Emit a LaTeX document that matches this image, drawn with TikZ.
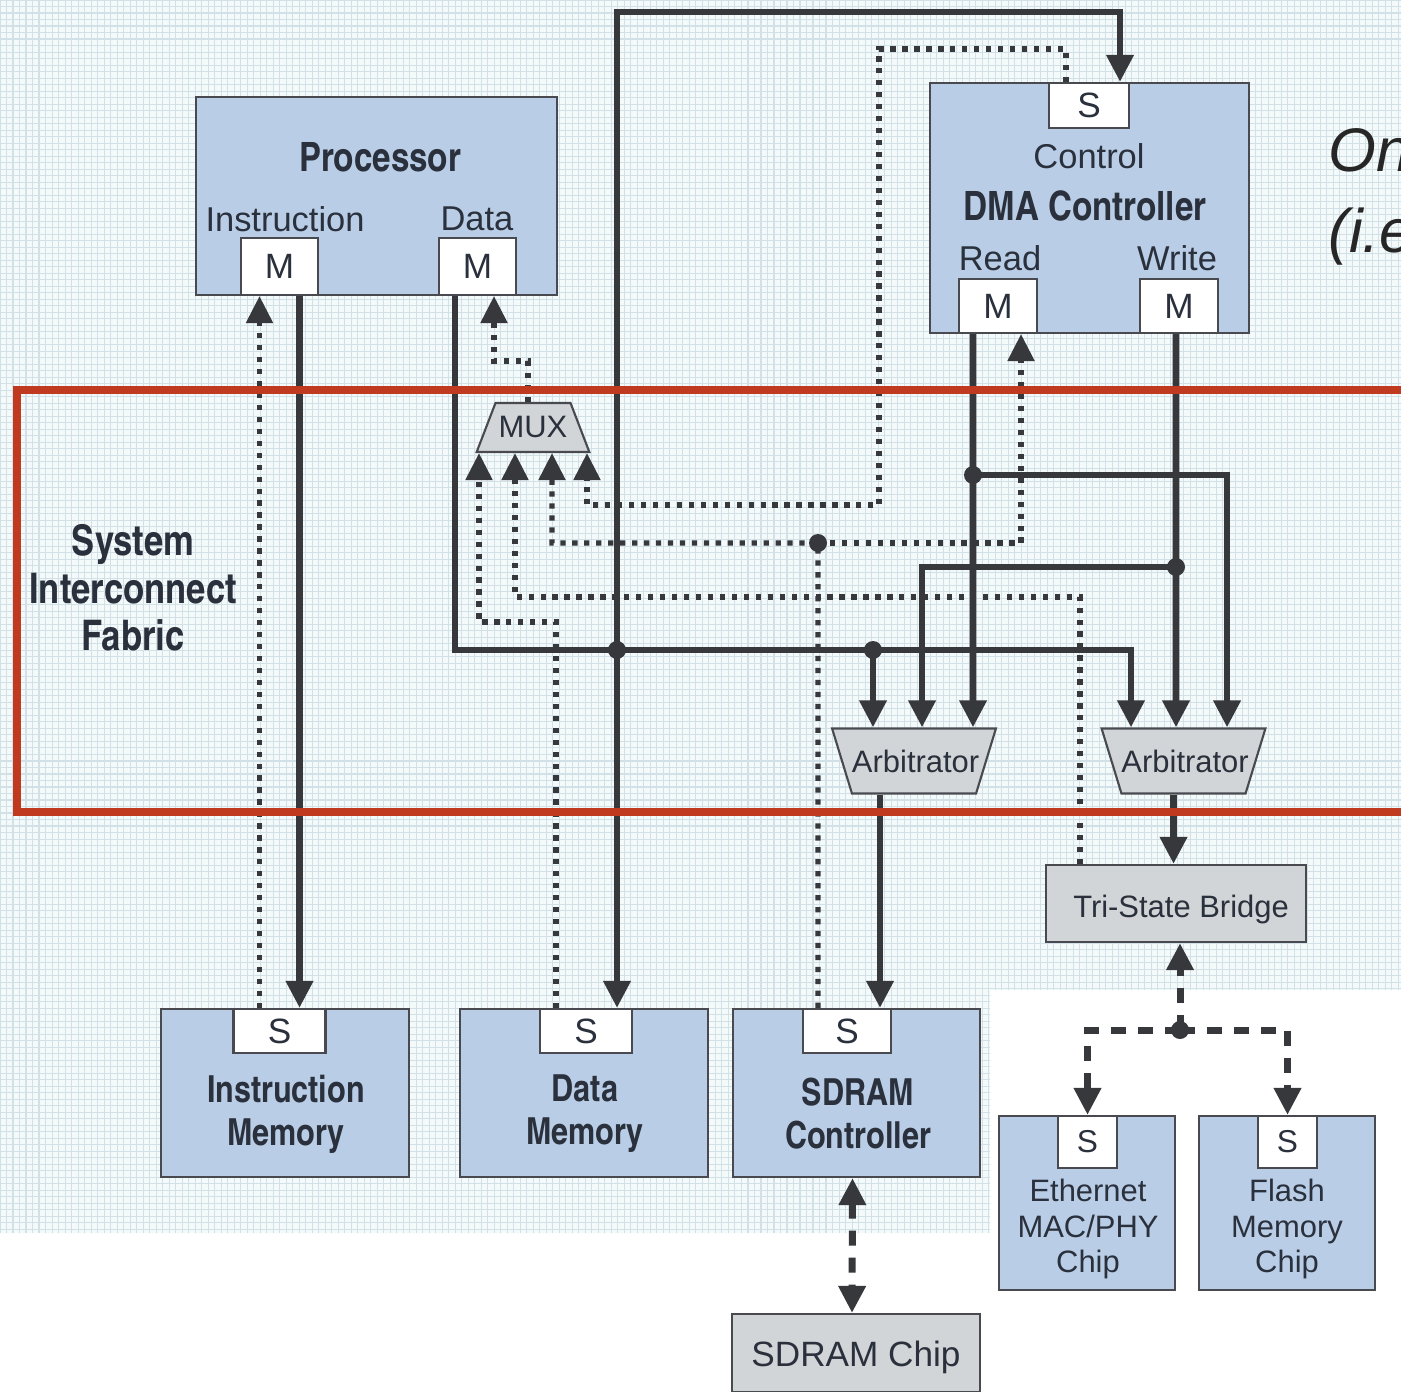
\documentclass[tikz,border=0pt]{standalone}
\usepackage{fontspec}
\setmainfont{Liberation Sans}
\newfontfamily\cnfont{texgyreheroscn-bold.otf}
\usetikzlibrary{arrows.meta,shapes.geometric}

\definecolor{gridbg}{RGB}{244,249,250}
\definecolor{gridln}{RGB}{210,225,231}
\definecolor{blkfill}{RGB}{185,206,230}
\definecolor{gryfill}{RGB}{209,213,215}
\definecolor{edgec}{RGB}{72,74,80}
\definecolor{wirec}{RGB}{55,56,60}
\definecolor{txtc}{RGB}{42,48,60}
\definecolor{fabric}{RGB}{192,58,32}

\begin{document}
\begin{tikzpicture}[x=0.01cm,y=-0.01cm,>={Triangle[width=0.26cm,length=0.27cm]},
	blk/.style={draw=edgec,line width=0.6pt,fill=blkfill,inner sep=0pt},
	gblk/.style={draw=edgec,line width=0.6pt,fill=gryfill,inner sep=0pt,text=txtc,font=\fontsize{8.8}{10}\selectfont},
	port/.style={draw=edgec,line width=0.6pt,fill=white,inner sep=0pt,text=txtc,font=\fontsize{10}{12}\selectfont},
	lbl/.style={text=txtc,inner sep=0pt,align=center,font=\fontsize{9.8}{11}\selectfont},
	hdr/.style={text=txtc,inner sep=0pt,align=center,font=\cnfont\fontsize{11.5}{13}\selectfont},
	arb/.style={gblk,trapezium,shape border rotate=180,trapezium left angle=73,trapezium right angle=73,text width=1.24cm,align=center,text height=0.435cm,text depth=0.215cm},
	bus/.style={draw=wirec,line width=1.9pt,->},
	ret/.style={draw=wirec,line width=1.5pt,dash pattern=on 1.5pt off 1.9pt,->},
	lnk/.style={draw=wirec,line width=2pt,dash pattern=on 4.3pt off 3.4pt,->},
]
	% backdrop
	\useasboundingbox (0,0) rectangle (1401,1391);
	\fill[white] (0,0) rectangle (1401,1391);
	\fill[gridbg] (0,0) -| (1401,990) -| (990,1233) -| (0,0) -- cycle;
	\begin{scope}
		\clip (0,0) -| (1401,990) -| (990,1233) -| (0,0) -- cycle;
		\draw[gridln,line width=0.3pt,step=0.065cm] (0,1233) grid (1401,0);
	\end{scope}

	% processor
	\node[blk,minimum width=3.61cm,minimum height=1.98cm] (proc) at (376.5,196) {};
	\node[hdr] (proc-name) at (380,157) {Processor};
	\node[lbl] (proc-il) at (285,219) {Instruction};
	\node[lbl] (proc-dl) at (477,219) {Data};
	\node[port,minimum width=0.77cm,minimum height=0.57cm] (proc-im) at (279.5,266.5) {M};
	\node[port,minimum width=0.77cm,minimum height=0.57cm] (proc-dm) at (477.5,266.5) {M};

	% dma
	\node[blk,minimum width=3.19cm,minimum height=2.5cm] (dma) at (1089.5,208) {};
	\node[port,minimum width=0.8cm,minimum height=0.45cm] (dma-s) at (1089,105.5) {S};
	\node[lbl] (dma-cl) at (1089,156) {Control};
	\node[hdr] (dma-name) at (1085,206) {DMA Controller};
	\node[lbl] (dma-rl) at (1000,258) {Read};
	\node[lbl] (dma-wl) at (1177,258) {Write};
	\node[port,minimum width=0.78cm,minimum height=0.54cm] (dma-rm) at (998,306) {M};
	\node[port,minimum width=0.78cm,minimum height=0.54cm] (dma-wm) at (1179,306) {M};

	\node[anchor=base west,inner sep=0pt,text=black!85,font=\fontsize{17.5}{21}\selectfont\itshape] (side-a) at (1328,172) {On};
	\node[anchor=base west,inner sep=0pt,text=black!85,font=\fontsize{17.5}{21}\selectfont\itshape] (side-b) at (1328,252) {(i.e.};

	% fabric
	\node[hdr,font=\cnfont\fontsize{12}{13.5}\selectfont] (fab-name) at (133,588) {System\\Interconnect\\Fabric};
	\node[gblk,trapezium,trapezium left angle=69,trapezium right angle=69,text width=0.75cm,align=center,text height=0.34cm,text depth=0.15cm] (mux) at (533,427.5) {MUX};
	\node[arb] (arb1) at (914,761) {Arbitrator};
	\node[arb] (arb2) at (1183.5,761) {Arbitrator};
	\node[gblk,minimum width=2.6cm,text height=0.52cm,text depth=0.25cm] (bridge) at (1176,903.5) {\hspace*{1mm}Tri-State Bridge};

	% slaves
	\node[blk,minimum width=2.48cm,minimum height=1.68cm] (imem) at (285,1093) {};
	\node[port,minimum width=0.92cm,minimum height=0.44cm] (imem-s) at (279.5,1031) {S};
	\node[hdr,font=\cnfont\fontsize{10.6}{12.2}\selectfont] (imem-name) at (286,1114) {Instruction\\Memory};
	\node[blk,minimum width=2.48cm,minimum height=1.68cm] (dmem) at (584,1093) {};
	\node[port,minimum width=0.92cm,minimum height=0.44cm] (dmem-s) at (586,1031) {S};
	\node[hdr,font=\cnfont\fontsize{10.6}{12.2}\selectfont] (dmem-name) at (585,1114) {Data\\Memory};
	\node[blk,minimum width=2.47cm,minimum height=1.68cm] (sdc) at (856.5,1093) {};
	\node[port,minimum width=0.88cm,minimum height=0.44cm] (sdc-s) at (847,1031) {S};
	\node[hdr,font=\cnfont\fontsize{10.6}{12.2}\selectfont] (sdc-name) at (858,1114) {SDRAM\\Controller};
	\node[gblk,minimum width=2.48cm,text height=0.52cm,text depth=0.26cm,font=\fontsize{10}{12}\selectfont] (sdchip) at (856,1353) {SDRAM Chip};

	\node[blk,minimum width=1.76cm,minimum height=1.74cm] (eth) at (1087,1203) {};
	\node[port,minimum width=0.59cm,minimum height=0.52cm,font=\fontsize{9}{10}\selectfont] (eth-s) at (1087.5,1142) {S};
	\node[lbl,font=\fontsize{8.8}{10.2}\selectfont] (eth-name) at (1088,1229) {Ethernet\\MAC/PHY\\Chip};
	\node[blk,minimum width=1.76cm,minimum height=1.74cm] (fla) at (1287,1203) {};
	\node[port,minimum width=0.59cm,minimum height=0.52cm,font=\fontsize{9}{10}\selectfont] (fla-s) at (1287.5,1142) {S};
	\node[lbl,font=\fontsize{8.8}{10.2}\selectfont] (fla-name) at (1287,1229) {Flash\\Memory\\Chip};

	% junctions and bends
	\coordinate (j1) at (617,650);
	\coordinate (j2) at (873,650);
	\coordinate (j3) at (973,475);
	\coordinate (j4) at (1176,567);
	\coordinate (j5) at (818,543);
	\coordinate (j6) at (1180,1030);
	\coordinate (c1) at (879,49);
	\coordinate (c2) at (587,505);
	\coordinate (c3) at (479,622);
	\coordinate (c4) at (515,597);

	% master to slave
	\draw[bus] ([xshift=2mm]proc-im.south) -- ([xshift=2mm]imem-s.north);
	\draw[bus] ([xshift=-2.25mm]proc-dm.south) |- (j2) -| ([xshift=-5.25mm]arb2.north);
	\draw[bus] (j1) -- (j1 |- dmem-s.north);
	\draw[bus] (j1) |- ([xshift=3.1mm,yshift=7mm]dma-s.north) -- ([xshift=3.1mm]dma-s.north);
	\draw[bus] (j2) -- (j2 |- arb1.north);
	\draw[bus] ([xshift=-2.5mm]dma-rm.south) -- (j3) -- (j3 |- arb1.north);
	\draw[bus] (j3) -| ([xshift=4.35mm]arb2.north);
	\draw[bus] ([xshift=-0.3mm]dma-wm.south) -- (j4) -- (j4 |- arb2.north);
	\draw[bus] (j4) -| ([xshift=0.8mm]arb1.north);
	\draw[bus] ([xshift=-3.4mm]arb1.south) -- ([xshift=-3.4mm]arb1.south |- sdc-s.north);
	\draw[bus] ([xshift=-1mm]arb2.south) -- ([xshift=-1mm]arb2.south |- bridge.north);

	% slave to master
	\draw[ret] ([xshift=-2mm]imem-s.north) -- ([xshift=-2mm]proc-im.south);
	\draw[ret] ([xshift=-0.5mm]mux.north) -- ++(0,0.41cm) -| ([xshift=1.65mm]proc-dm.south);
	\draw[ret] ([xshift=-2.3mm]dma-s.north) |- (c1) |- (c2) -- (c2 |- mux.south);
	\draw[ret] ([xshift=-3mm]dmem-s.north) |- (c3) -- (c3 |- mux.south);
	\draw[ret] ([xshift=-9.6mm]bridge.north) |- (c4) -- (c4 |- mux.south);
	\draw[ret] ([xshift=-2.9mm]sdc-s.north) -- (j5) -| ([xshift=1.9mm]mux.south);
	\draw[ret] (j5) -| ([xshift=2.3mm]dma-rm.south);

	% off-chip
	\draw[lnk,<->] ([xshift=-0.4mm]sdc.south) -- ([xshift=-0.4mm]sdchip.north);
	\draw[lnk] (j6) -- (j6 |- bridge.south);
	\draw[lnk] (j6) -| (eth-s.north);
	\draw[lnk] (j6) -| (fla-s.north);

	\foreach \j in {j1,j2,j3,j4,j5,j6}
		\fill[wirec] (\j) circle (0.09cm);

	\draw[fabric,line width=2pt] (17,390) rectangle (1430,812);
\end{tikzpicture}
\end{document}
